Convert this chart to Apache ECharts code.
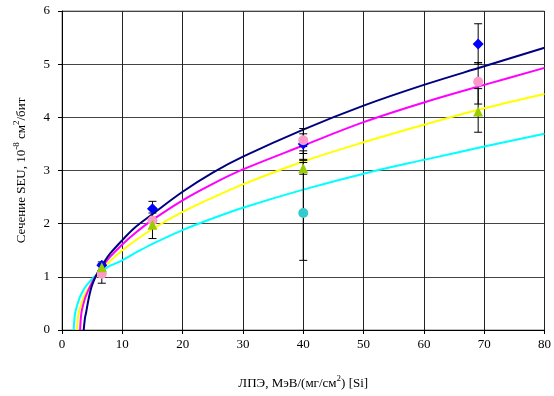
<!DOCTYPE html>
<html>
<head>
<meta charset="utf-8">
<script src="https://cdn.jsdelivr.net/npm/echarts@6/dist/echarts.min.js"></script>
<style>
html,body{margin:0;padding:0;background:#fff;}
#chart{width:554px;height:396px;}
</style>
</head>
<body>
<div id="chart"></div>
<script>
// Fitted curves (x = LET, y = cross-section)
const curveNavy = [[3.6,0],[3.8,0.22],[4.0,0.33],[4.4,0.58],[5,0.85],[6,1.1],[7,1.28],[8,1.44],[10,1.69],[12,1.92],[15,2.18],[20,2.6],[25,2.96],[30,3.26],[40,3.77],[50,4.22],[60,4.61],[70,4.96],[80,5.31]];
const curveMagenta = [[3.0,0],[3.2,0.31],[3.5,0.47],[4,0.65],[5,0.9],[6,1.08],[7,1.24],[8,1.38],[10,1.61],[12,1.81],[15,2.07],[20,2.44],[25,2.75],[30,3.02],[40,3.47],[50,3.91],[60,4.28],[70,4.61],[80,4.93]];
const curveYellow = [[2.5,0],[2.7,0.28],[3,0.42],[3.5,0.59],[4,0.71],[5,0.9],[6,1.05],[7,1.18],[8,1.3],[10,1.5],[12,1.67],[15,1.9],[20,2.22],[25,2.49],[30,2.74],[40,3.17],[50,3.53],[60,3.86],[70,4.17],[80,4.44]];
const curveCyan = [[1.93,0],[2.1,0.25],[2.3,0.38],[2.9,0.6],[3.5,0.74],[4,0.83],[5,0.96],[6,1.06],[7,1.14],[8,1.21],[10,1.31],[12,1.44],[15,1.62],[20,1.88],[25,2.1],[30,2.3],[40,2.64],[50,2.94],[60,3.2],[70,3.45],[80,3.69]];

// Measured points
const pointsBlue = [[6.6,1.22],[15,2.28],[40,3.5],[69,5.38]];
const pointsPink = [[6.6,1.06],[15,2.06],[40,3.57],[69,4.67]];
const pointsGreen = [[6.6,1.18],[15,1.98],[40,3.04],[69,4.11]];
const pointsCyan = [[40,2.2]];

// Error bars: [x, low, high]
const errorBars = [
  [6.6,0.88,1.28],[6.6,1.12,1.25],
  [15,2.12,2.42],[15,1.72,2.2],
  [40,3.21,3.79],[40,3.45,3.69],[40,2.93,3.15],[40,3.32,3.37],[40,1.31,3.19],
  [69,5.0,5.76],[69,4.25,5.03],[69,3.72,4.54]
];

const xMin = 0, xMax = 80, xStep = 10;
const yMin = 0, yMax = 6, yStep = 1;

const serif = 'Liberation Serif';
const chart = echarts.init(document.getElementById('chart'), null, {renderer:'canvas'});

function lineSeries(data, color){
  return {type:'line', data:data, symbol:'none', smooth:0.35,
    lineStyle:{color:color, width:2}, z:2, silent:true};
}
function pointSeries(data, symbol, size, color){
  return {type:'scatter', data:data, symbol:symbol, symbolSize:size,
    itemStyle:{color:color, opacity:1}, z:4, silent:true};
}

chart.setOption({
  animation:false,
  backgroundColor:'#ffffff',
  grid:{left:62, right:8, top:11, bottom:66, show:true, borderColor:'#808080', borderWidth:1},
  xAxis:{
    type:'value', min:xMin, max:xMax, interval:xStep,
    axisLine:{show:true, onZero:false, lineStyle:{color:'#000', width:1}},
    axisTick:{show:true, length:4, lineStyle:{color:'#000'}},
    axisLabel:{color:'#000', fontFamily:serif, fontSize:13, margin:8},
    splitLine:{show:true, lineStyle:{color:'#222', width:1}},
    name:'{a|ЛПЭ, МэВ/(мг/см}{s|2}{a|) [Si]}',
    nameLocation:'middle', nameGap:44,
    nameTextStyle:{rich:{
      a:{fontFamily:serif, fontSize:13, color:'#000', lineHeight:16, verticalAlign:'bottom'},
      s:{fontFamily:serif, fontSize:9, color:'#000', lineHeight:16, verticalAlign:'top', padding:[0,0,6,0]}
    }}
  },
  yAxis:{
    type:'value', min:yMin, max:yMax, interval:yStep,
    axisLine:{show:true, lineStyle:{color:'#000', width:1}},
    axisTick:{show:true, length:4, lineStyle:{color:'#000'}},
    axisLabel:{color:'#000', fontFamily:serif, fontSize:13, margin:12},
    splitLine:{show:true, lineStyle:{color:'#444', width:1}},
    name:'{a|Сечение SEU, 10}{s|-8}{a| см}{s|2}{a|/бит}',
    nameLocation:'middle', nameGap:34, nameRotate:90,
    nameTextStyle:{rich:{
      a:{fontFamily:serif, fontSize:13, color:'#000', lineHeight:16, verticalAlign:'bottom'},
      s:{fontFamily:serif, fontSize:9, color:'#000', lineHeight:16, verticalAlign:'top', padding:[0,0,6,0]}
    }}
  },
  series:[
    lineSeries(curveCyan,'#00FFFF'),
    lineSeries(curveYellow,'#FFFF00'),
    lineSeries(curveMagenta,'#FF00FF'),
    lineSeries(curveNavy,'#000080'),
    {
      type:'custom', data:errorBars, z:3, silent:true,
      renderItem:function(params, api){
        const x = api.value(0), lo = api.value(1), hi = api.value(2);
        const p1 = api.coord([x, lo]), p2 = api.coord([x, hi]);
        const st = {stroke:'#000', lineWidth:1};
        return {type:'group', children:[
          {type:'line', shape:{x1:p1[0], y1:p1[1], x2:p2[0], y2:p2[1]}, style:st},
          {type:'line', shape:{x1:p1[0]-4, y1:p1[1], x2:p1[0]+4, y2:p1[1]}, style:st},
          {type:'line', shape:{x1:p2[0]-4, y1:p2[1], x2:p2[0]+4, y2:p2[1]}, style:st}
        ]};
      }
    },
    pointSeries(pointsCyan,'circle',10,'#33CCCC'),
    pointSeries(pointsBlue,'diamond',11,'#0000FF'),
    pointSeries(pointsPink,'circle',10,'#FF99CC'),
    pointSeries(pointsGreen,'triangle',10,'#99CC00')
  ]
});
</script>
</body>
</html>
